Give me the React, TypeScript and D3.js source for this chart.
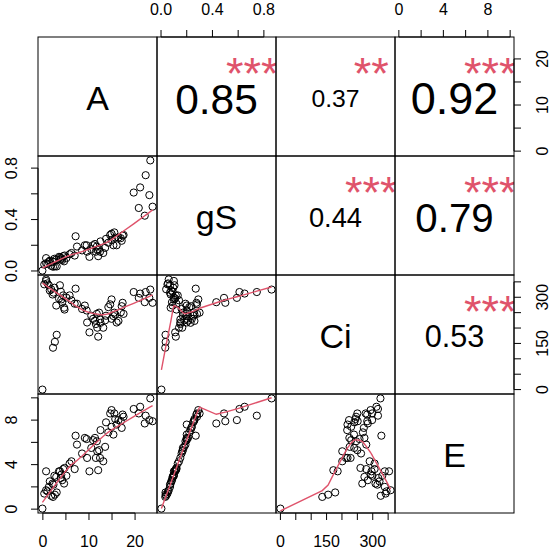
import React from "react";
import * as d3 from "d3";

const varNames = ["A", "gS", "Ci", "E"];
const A = [-0.1, -0.1, -0.1, -0.1, -0.1, -0.1,
  0.3, 0.7, 0.7, 1.0, 1.3, 1.5, 1.8, 2.1, 2.3, 2.5, 2.9, 3.5, 3.7, 3.9, 4.0, 4.2, 4.4, 4.6, 4.7, 5.1, 5.8, 6.2, 6.9,
  2.2, 2.6, 3.0, 7.1, 7.4, 8.5, 9.1, 9.5, 9.6, 10.1,
  10.5, 10.9, 11.3, 11.5, 11.7, 11.8, 12.0, 12.2, 12.4, 12.5, 13.1, 13.5, 13.7, 14.2,
  14.6, 14.9, 14.9, 15.3, 15.5, 15.7, 16.0, 16.4, 16.9, 17.1, 17.3, 17.5,
  19.7, 20.8, 21.1, 22.1, 22.3, 23.1, 23.3, 23.8];
const gS = [0.003, 0.003, 0.003, 0.003, 0.003, 0.003,
  0.05, 0.10, 0.06, 0.055, 0.07, 0.08, 0.04, 0.075, 0.07, 0.095, 0.09, 0.11, 0.105, 0.09, 0.10, 0.085, 0.115, 0.075, 0.12, 0.10, 0.13, 0.14, 0.12,
  0.033, 0.036, 0.035, 0.27, 0.19, 0.16, 0.20, 0.20, 0.15, 0.11,
  0.17, 0.20, 0.21, 0.15, 0.19, 0.165, 0.115, 0.17, 0.15, 0.23, 0.14, 0.18, 0.25, 0.22,
  0.28, 0.24, 0.29, 0.20, 0.30, 0.26, 0.20, 0.26, 0.255, 0.235, 0.275, 0.28,
  0.61, 0.49, 0.65, 0.43, 0.745, 0.59, 0.86, 0.50];
const Ci = [0, 0, 0, 0, 0, 0,
  342, 353, 358, 345, 339, 322, 326, 309, 315, 331, 273, 296, 339, 318, 293, 284, 306, 266, 260, 299, 306, 290, 279,
  136, 155, 178, 328, 279, 262, 273, 257, 218, 186,
  240, 230, 224, 213, 246, 201, 172, 250, 228, 217, 201, 225, 240, 268,
  277, 230, 293, 239, 250, 244, 218, 223, 251, 271, 282, 246,
  317, 298, 312, 284, 317, 298, 325, 282];
const E = [0.05, 0.05, 0.05, 0.05, 0.05, 0.05,
  1.4, 3.4, 1.7, 1.6, 2.0, 2.5, 1.2, 2.3, 2.2, 3.0, 2.9, 3.4, 3.4, 2.8, 3.1, 2.6, 3.6, 2.3, 3.7, 3.0, 4.1, 4.3, 3.6,
  1.1, 1.3, 1.5, 6.6, 5.8, 5.0, 6.4, 6.3, 4.6, 3.4,
  5.5, 6.2, 6.4, 4.6, 6.1, 5.2, 3.5, 5.3, 4.6, 7.1, 4.3, 5.6, 7.8, 6.9,
  8.6, 7.4, 8.9, 6.7, 8.6, 8.1, 7.6, 8.0, 7.9, 7.3, 8.5, 8.3,
  9.0, 8.6, 9.2, 7.7, 8.4, 8.0, 9.95, 7.9];

// upper-panel correlations: [row, col]
const corrRows = [0, 0, 0, 1, 1, 2];
const corrCols = [1, 2, 3, 2, 3, 3];
const corrR = [0.85, 0.37, 0.92, 0.44, 0.79, 0.53];
const corrStars = ["***", "**", "***", "***", "***", "***"];

// axis ticks
const aTicks = [0, 5, 10, 15, 20];
const aLabels = [0, 10, 20];
const gsTicks = [0, 0.2, 0.4, 0.6, 0.8];
const gsLabels = [0, 0.4, 0.8];
const ciTicks = [0, 50, 100, 150, 200, 250, 300, 350];
const ciLabels = [0, 150, 300];
const eTicks = [0, 2, 4, 6, 8, 10];
const eLabels = [0, 4, 8];

const W = 553, H = 552;
const L = 38, T = 37, S = 119, N = 4;
const RED = "#DF536B";
const FONT = "'Liberation Sans', Arial, sans-serif";

function ext(v: number[]): [number, number] {
  const mn = d3.min(v)!, mx = d3.max(v)!;
  const r = mx - mn;
  return [mn - 0.04 * r, mx + 0.04 * r];
}

function lowess(xIn: number[], yIn: number[], f = 2 / 3, nsteps = 3): [number, number][] {
  const idx = xIn.map((_, i) => i).sort((a, b) => xIn[a] - xIn[b] || a - b);
  const x = idx.map((i) => xIn[i]);
  const y = idx.map((i) => yIn[i]);
  const n = x.length;
  const range = x[n - 1] - x[0];
  const delta = 0.01 * range;
  const ys = new Array(n).fill(0);
  const rw = new Array(n).fill(1);
  const res = new Array(n).fill(0);
  const w = new Array(n).fill(0);
  const ns = Math.max(2, Math.min(n, Math.floor(f * n + 1e-7)));

  function lowest(xs: number, nleft: number, nright: number, userw: boolean): number | null {
    const h = Math.max(xs - x[nleft], x[nright] - xs);
    const h9 = 0.999 * h, h1 = 0.001 * h;
    let a = 0;
    let j = nleft;
    while (j < n) {
      w[j] = 0;
      const r = Math.abs(x[j] - xs);
      if (r <= h9) {
        if (r <= h1) w[j] = 1;
        else {
          const q = r / h;
          const t = 1 - q * q * q;
          w[j] = t * t * t;
        }
        if (userw) w[j] *= rw[j];
        a += w[j];
      } else if (x[j] > xs) break;
      j++;
    }
    const nrt = j - 1;
    if (a <= 0) return null;
    for (let k = nleft; k <= nrt; k++) w[k] /= a;
    if (h > 0) {
      let aa = 0;
      for (let k = nleft; k <= nrt; k++) aa += w[k] * x[k];
      let b = xs - aa;
      let c = 0;
      for (let k = nleft; k <= nrt; k++) c += w[k] * (x[k] - aa) * (x[k] - aa);
      if (Math.sqrt(c) > 0.001 * range) {
        b /= c;
        for (let k = nleft; k <= nrt; k++) w[k] *= b * (x[k] - aa) + 1;
      }
    }
    let out = 0;
    for (let k = nleft; k <= nrt; k++) out += w[k] * y[k];
    return out;
  }

  for (let iter = 1; iter <= nsteps + 1; iter++) {
    let nleft = 0, nright = ns - 1, last = -1, i = 0;
    for (;;) {
      if (nright < n - 1) {
        const d1 = x[i] - x[nleft];
        const d2 = x[nright + 1] - x[i];
        if (d1 > d2) {
          nleft++;
          nright++;
          continue;
        }
      }
      const v = lowest(x[i], nleft, nright, iter > 1);
      ys[i] = v === null ? y[i] : v;
      if (last < i - 1) {
        const denom = x[i] - x[last];
        for (let j = last + 1; j < i; j++) {
          const alpha = (x[j] - x[last]) / denom;
          ys[j] = alpha * ys[i] + (1 - alpha) * ys[last];
        }
      }
      last = i;
      const cut = x[last] + delta;
      for (i = last + 1; i < n; i++) {
        if (x[i] > cut) break;
        if (x[i] === x[last]) {
          ys[i] = ys[last];
          last = i;
        }
      }
      i = Math.max(last + 1, i - 1);
      if (last >= n - 1) break;
    }
    for (let k = 0; k < n; k++) res[k] = y[k] - ys[k];
    if (iter > nsteps) break;
    let sc = 0;
    for (let k = 0; k < n; k++) sc += Math.abs(res[k]);
    sc /= n;
    const ar = res.map((r) => Math.abs(r)).sort((a, b) => a - b);
    const m1 = Math.floor(n / 2);
    let cmad: number;
    if (n % 2 === 0) {
      const m2 = n - m1 - 1;
      cmad = 3 * (ar[m1] + ar[m2]);
    } else cmad = 6 * ar[m1];
    if (cmad < 1e-7 * sc) break;
    const c9 = 0.999 * cmad, c1 = 0.001 * cmad;
    for (let k = 0; k < n; k++) {
      const r = Math.abs(res[k]);
      if (r <= c1) rw[k] = 1;
      else if (r <= c9) {
        const q = r / c9;
        rw[k] = (1 - q * q) * (1 - q * q);
      } else rw[k] = 0;
    }
  }
  return x.map((xv, k) => [xv, ys[k]] as [number, number]);
}

const vars = [A, gS, Ci, E];
const xScales = vars.map((v, k) => d3.scaleLinear().domain(ext(v)).range([L + k * S, L + (k + 1) * S]));
const yScales = vars.map((v, k) => d3.scaleLinear().domain(ext(v)).range([T + (k + 1) * S, T + k * S]));
const ticksByVar = [aTicks, gsTicks, ciTicks, eTicks];
const labelsByVar = [aLabels, gsLabels, ciLabels, eLabels];
const fmtByVar = [(v: number) => String(v), (v: number) => v.toFixed(1), (v: number) => String(v), (v: number) => String(v)];

const TICK = 7;

export default function App() {
  const panels: React.ReactNode[] = [];
  const clips: React.ReactNode[] = [];

  for (let i = 0; i < N; i++) {
    for (let j = 0; j < N; j++) {
      const x0 = L + j * S, y0 = T + i * S;
      const id = `clip-${i}-${j}`;
      clips.push(
        <clipPath id={id} key={id}>
          <rect x={x0} y={y0} width={S} height={S} />
        </clipPath>
      );
      if (i === j) {
        panels.push(
          <text key={`lab${i}`} x={x0 + S / 2} y={y0 + S / 2 + 1.5 + 0.36 * 34} textAnchor="middle" fontSize={34} fontFamily={FONT} fill="#000">
            {varNames[i]}
          </text>
        );
      } else if (i > j) {
        const xs = xScales[j], ys = yScales[i];
        const xv = vars[j], yv = vars[i];
        const smooth = lowess(xv, yv);
        const line = d3.line<[number, number]>().x((d) => xs(d[0])).y((d) => ys(d[1]));
        // coincident observations overplot into a single circle
        const seen = new Set<string>();
        const pts: [number, number][] = [];
        xv.forEach((v, k) => {
          const key = `${v}|${yv[k]}`;
          if (!seen.has(key)) {
            seen.add(key);
            pts.push([v, yv[k]]);
          }
        });
        panels.push(
          <g key={`p${i}${j}`} clipPath={`url(#${id})`}>
            {pts.map((p, k) => (
              <circle key={k} cx={xs(p[0])} cy={ys(p[1])} r={3.6} fill="none" stroke="#000" strokeWidth={1} />
            ))}
            <path d={line(smooth) || ""} fill="none" stroke={RED} strokeWidth={1.4} />
          </g>
        );
      }
    }
  }

  corrR.forEach((r, k) => {
    const i = corrRows[k], j = corrCols[k];
    const x0 = L + j * S, y0 = T + i * S;
    const fs = (48 * (Math.abs(r) + 0.3)) / 1.3;
    panels.push(
      <g key={`c${k}`} clipPath={`url(#clip-${i}-${j})`}>
        <text x={x0 + S / 2} y={y0 + S / 2 + 1.8 + 0.358 * fs} textAnchor="middle" fontSize={fs} fontFamily={FONT} fill="#000">
          {r.toFixed(2)}
        </text>
        <text x={x0 + 0.8 * S} y={y0 + 0.22 * S + 0.575 * 45} textAnchor="middle" fontSize={45} fontFamily={FONT} fill={RED}>
          {corrStars[k]}
        </text>
      </g>
    );
  });

  const axes: React.ReactNode[] = [];
  for (let k = 0; k < N; k++) {
    const sc = xScales[k];
    const top = k % 2 === 1;
    const yA = top ? T : T + N * S;
    const dir = top ? -1 : 1;
    const tk = ticksByVar[k];
    axes.push(
      <g key={`xa${k}`}>
        <line x1={sc(tk[0])} x2={sc(tk[tk.length - 1])} y1={yA} y2={yA} stroke="#000" />
        {tk.map((t) => (
          <line key={t} x1={sc(t)} x2={sc(t)} y1={yA} y2={yA + dir * TICK} stroke="#000" />
        ))}
        {labelsByVar[k].map((t) => (
          <text key={`l${t}`} x={sc(t)} y={top ? 15 : 547} textAnchor="middle" fontSize={16} fontFamily={FONT} fill="#000">
            {fmtByVar[k](t)}
          </text>
        ))}
      </g>
    );
  }
  for (let k = 0; k < N; k++) {
    const sc = yScales[k];
    const left = k % 2 === 1;
    const xA = left ? L : L + N * S;
    const dir = left ? -1 : 1;
    const tk = ticksByVar[k];
    axes.push(
      <g key={`ya${k}`}>
        <line y1={sc(tk[0])} y2={sc(tk[tk.length - 1])} x1={xA} x2={xA} stroke="#000" />
        {tk.map((t) => (
          <line key={t} y1={sc(t)} y2={sc(t)} x1={xA} x2={xA + dir * TICK} stroke="#000" />
        ))}
        {labelsByVar[k].map((t) => (
          <text key={`l${t}`} transform={`translate(${left ? 16.5 : 547.5},${sc(t)}) rotate(-90)`} textAnchor="middle" fontSize={16} fontFamily={FONT} fill="#000">
            {fmtByVar[k](t)}
          </text>
        ))}
      </g>
    );
  }

  const borders: React.ReactNode[] = [];
  for (let i = 0; i < N; i++)
    for (let j = 0; j < N; j++)
      borders.push(
        <rect key={`b${i}${j}`} x={L + j * S} y={T + i * S} width={S} height={S} fill="none" stroke="#000" strokeWidth={1} />
      );

  return (
    <svg width={W} height={H} style={{ position: "absolute", left: 0, top: 0, background: "#fff" }}>
      <defs>{clips}</defs>
      <rect x={0} y={0} width={W} height={H} fill="#fff" />
      {panels}
      {borders}
      {axes}
    </svg>
  );
}
